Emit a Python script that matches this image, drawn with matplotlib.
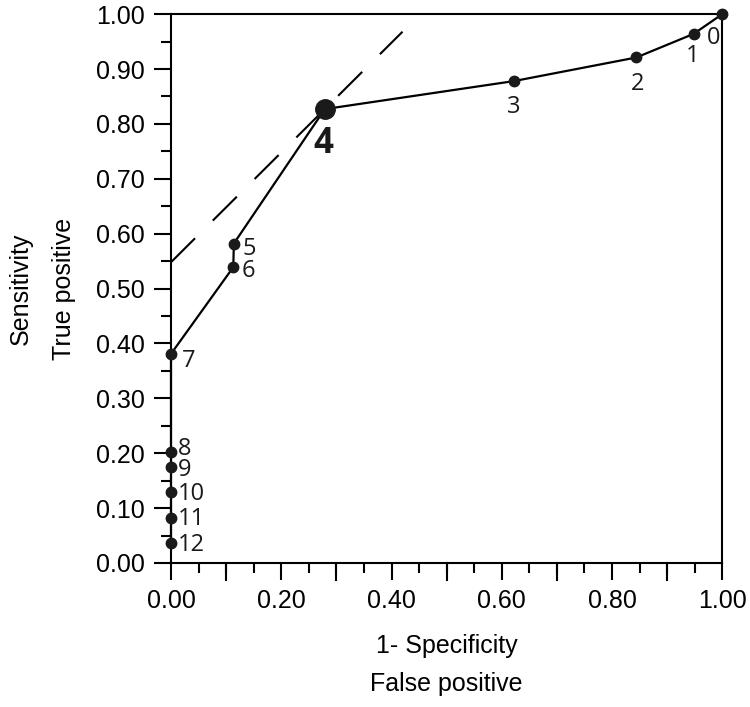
import numpy as np
import matplotlib.pyplot as plt
from matplotlib.ticker import MultipleLocator, FormatStrFormatter

# ROC points (cut-off index, 1-specificity, sensitivity)
cutoffs = ["0", "1", "2", "3", "4", "5", "6", "7", "8", "9", "10", "11", "12"]
fpr = [1.00, 0.948, 0.844, 0.622, 0.279, 0.114, 0.113, 0.0, 0.0, 0.0, 0.0, 0.0, 0.0]
tpr = [1.00, 0.964, 0.921, 0.878, 0.827, 0.582, 0.539, 0.381, 0.203, 0.175, 0.129, 0.082, 0.036]

# label offsets in points (dx, dy)
label_offsets = [(-6, -17), (-1, -16), (1, -19), (0, -19), (-1, -25), (11, -4), (11, -3),
                 (13, -5), (5, 1.5), (5, -2), (5, -1), (5, -1), (5, -1)]
best = 4
tangent_x = [0.0, 0.42]

plt.rcParams['font.family'] = ['Liberation Sans', 'DejaVu Sans']

fig = plt.figure(figsize=(7.5, 7.07), dpi=100)
ax = fig.add_axes([0.228, 0.2037, 0.735, 0.7763])

# dashed tangent line through the optimal cut-off (slope 1)
b = tpr[best] - fpr[best]
ax.plot(tangent_x, [x + b for x in tangent_x], color='black', lw=1.5,
        dashes=(16.3, 12), zorder=2)

ax.plot(fpr, tpr, color='black', lw=1.6, zorder=3, clip_on=False)
ax.plot(fpr, tpr, 'o', color='#1a1a1a', ms=7.5, zorder=4, clip_on=False)
ax.plot([fpr[best]], [tpr[best]], 'o', color='#1a1a1a', ms=14, zorder=5)

for i, lab in enumerate(cutoffs):
    dx, dy = label_offsets[i]
    if i == best:
        ax.annotate(lab, (fpr[i], tpr[i]), xytext=(dx, dy), textcoords='offset points',
                    ha='center', va='center', fontsize=25, fontweight='bold',
                    family='Open Sans', color='#1a1a1a')
    elif i >= 8:
        ax.annotate(lab, (fpr[i], tpr[i]), xytext=(dx, dy), textcoords='offset points',
                    ha='left', va='center', fontsize=17, family='Open Sans',
                    color='#1a1a1a')
    else:
        ax.annotate(lab, (fpr[i], tpr[i]), xytext=(dx, dy), textcoords='offset points',
                    ha='center', va='center', fontsize=17, family='Open Sans',
                    color='#1a1a1a', zorder=6)

ax.set_xlim(0, 1)
ax.set_ylim(0, 1)

ax.xaxis.set_major_locator(MultipleLocator(0.2))
ax.xaxis.set_minor_locator(MultipleLocator(0.05))
ax.yaxis.set_major_locator(MultipleLocator(0.1))
ax.yaxis.set_minor_locator(MultipleLocator(0.05))
ax.xaxis.set_major_formatter(FormatStrFormatter('%.2f'))
ax.yaxis.set_major_formatter(FormatStrFormatter('%.2f'))

# x axis has long ticks every 0.1 but labels only every 0.2
for x in np.arange(0.1, 1.0, 0.2):
    ax.plot([x, x], [0, -0.031], color='black', lw=1.5, clip_on=False, zorder=1)

ax.tick_params(which='major', direction='out', length=12, width=1.5, labelsize=18,
               pad=7, colors='black')
ax.tick_params(which='minor', direction='out', length=7, width=1.5)

for s in ax.spines.values():
    s.set_linewidth(1.5)

ax.set_xlabel("1- Specificity\nFalse positive", fontsize=18, labelpad=15,
              linespacing=1.7)
ax.set_ylabel("Sensitivity\nTrue positive", fontsize=18, labelpad=14,
              linespacing=2.0)

fig.savefig("out.png", dpi=100)
